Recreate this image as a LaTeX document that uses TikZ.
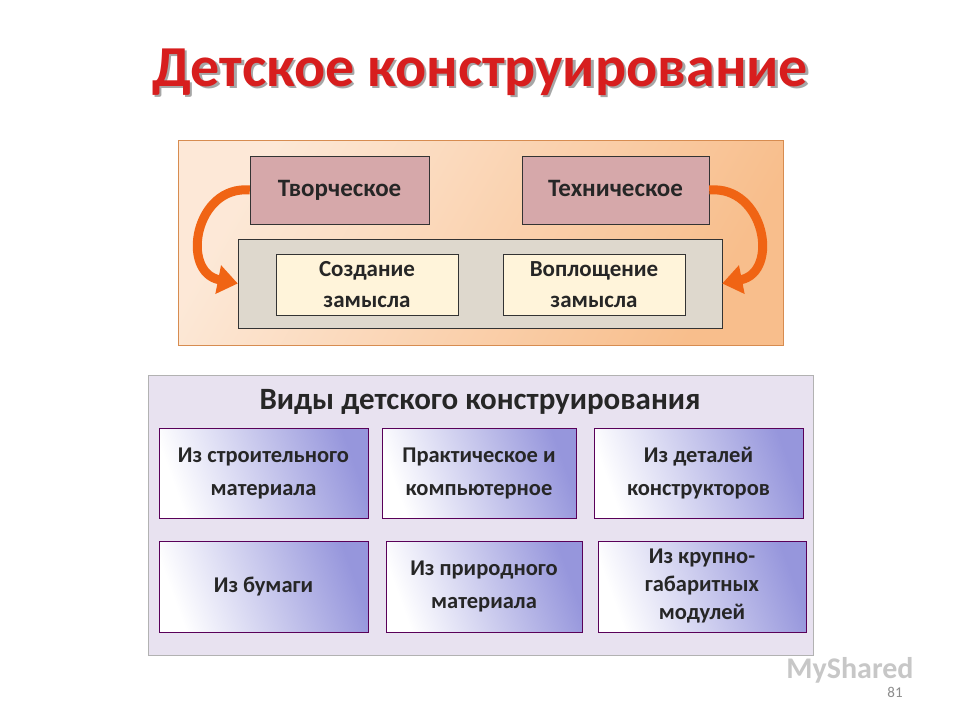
\documentclass[tikz,border=0pt]{standalone}
\usepackage{fontspec}
\setmainfont{Carlito}
\usetikzlibrary{arrows.meta}
\definecolor{ttl}{RGB}{215,30,30}
\definecolor{panelA}{RGB}{248,190,140}
\definecolor{panelAb}{RGB}{215,140,80}
\definecolor{pinkbox}{RGB}{214,168,170}
\definecolor{graybox}{RGB}{222,216,205}
\definecolor{cream}{RGB}{255,244,218}
\definecolor{panelB}{RGB}{232,226,240}
\definecolor{blueb}{RGB}{150,150,220}
\definecolor{arr}{RGB}{240,100,20}
\tikzset{x=1pt,y=-1pt,
 txt/.style={font=\bfseries\fontsize{25}{30}\selectfont,align=center,text=black!85,text height=17pt,text depth=5pt},
 stxt/.style={font=\bfseries\fontsize{22.5}{33}\selectfont,align=center,text=black!85},
 kind/.style={draw=violet!70!black,line width=0.6pt,left color=white,right color=blueb,shading angle=110}}
\begin{document}
\begin{tikzpicture}
\useasboundingbox (0,0) rectangle (960,720);
\fill[white] (0,0) rectangle (960,720);
\node[font=\bfseries\fontsize{58}{64}\selectfont,text=black!35] (ts) at (482.5,74.5) {Детское конструирование};
\node[font=\bfseries\fontsize{58}{64}\selectfont,text=ttl] (title) at (480,72) {Детское конструирование};
% top panel
\draw[panelAb,line width=1pt,left color=panelA!35,right color=panelA,shading angle=60] (178,140) rectangle (783,345);
\node[draw=black!80,fill=pinkbox,minimum width=179,minimum height=68,txt] (tv) at (339.5,190) {Творческое};
\node[draw=black!80,fill=pinkbox,minimum width=187,minimum height=68,txt] (te) at (615.5,190) {Техническое};
\node[draw=black!80,fill=graybox,minimum width=484,minimum height=89] (gb) at (480,283.5) {};
\node[draw=black!80,fill=cream,minimum width=182,minimum height=61,stxt,font=\bfseries\fontsize{23}{31}\selectfont] (sz) at (367,284.5) {Создание\\замысла};
\node[draw=black!80,fill=cream,minimum width=182,minimum height=61,stxt,font=\bfseries\fontsize{23}{31}\selectfont] (vz) at (594,284.5) {Воплощение\\замысла};
\draw[arr,line width=9pt,-{Triangle[length=20pt,width=28pt]}] (tv.west) .. controls (195,185) and (180,272) .. (gb.west);
\draw[arr,line width=9pt,-{Triangle[length=20pt,width=28pt]}] (te.east) .. controls (765,185) and (780,272) .. (gb.east);
% bottom panel
\draw[black!30,fill=panelB] (148,375) rectangle (813,655);
\node[font=\bfseries\fontsize{31}{36}\selectfont,text=black!85] (vt) at (480,402) {Виды детского конструирования};
\node[kind,minimum width=209,minimum height=90,stxt] (k1) at (263.5,473) {Из строительного\\материала};
\node[kind,minimum width=194,minimum height=90,stxt] (k2) at (479,473) {Практическое  и\\компьютерное};
\node[kind,minimum width=209,minimum height=90,stxt] (k3) at (698.5,473) {Из деталей\\конструкторов};
\node[kind,minimum width=209,minimum height=91,stxt] (k4) at (263.5,586.5) {Из бумаги};
\node[kind,minimum width=196,minimum height=91,stxt] (k5) at (484,586.5) {Из природного\\материала};
\node[kind,minimum width=208,minimum height=91,stxt,font=\bfseries\fontsize{22.5}{28}\selectfont] (k6) at (702,586.5) {Из  крупно-\\габаритных\\модулей};
\node[font=\bfseries\fontsize{30}{34}\selectfont,text=black!22] (ms) at (850,670) {MyShared};
\node[font=\fontsize{15}{17}\selectfont,text=black!45] (pg) at (895,692) {81};
\end{tikzpicture}
\end{document}
